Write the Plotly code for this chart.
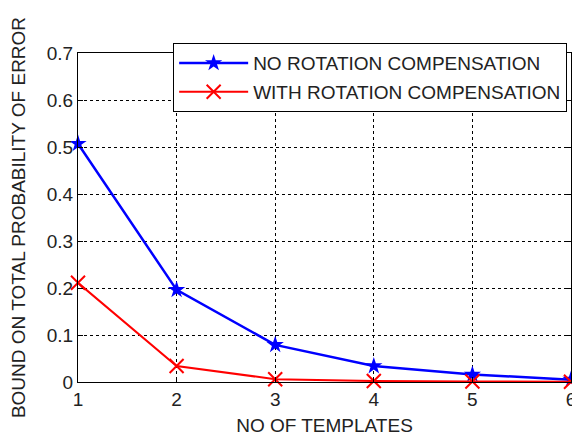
import plotly.graph_objects as go

templates = [1, 2, 3, 4, 5, 6]
no_rot = [0.507, 0.196, 0.079, 0.034, 0.016, 0.005]
with_rot = [0.211, 0.034, 0.006, 0.002, 0.001, 0.0005]
x_ticks = [1, 2, 3, 4, 5, 6]
y_ticks = [0, 0.1, 0.2, 0.3, 0.4, 0.5, 0.6, 0.7]
y_tick_labels = ["0", "0.1", "0.2", "0.3", "0.4", "0.5", "0.6", "0.7"]

FONT = "Liberation Sans, Arial, sans-serif"
TXT = "#222222"
FS = 19

fig = go.Figure()
fig.add_trace(go.Scatter(
    x=templates, y=no_rot, mode="lines+markers", name="NO ROTATION COMPENSATION",
    line=dict(color="#0000ff", width=2.5),
    marker=dict(symbol="star", size=13, color="#0000ff"),
    legendgroup="a", cliponaxis=False,
))
fig.add_trace(go.Scatter(
    x=templates, y=with_rot, mode="lines+markers", name="WITH ROTATION COMPENSATION",
    line=dict(color="#ff0000", width=2),
    marker=dict(symbol="x-thin-open", size=14, color="#ff0000",
                line=dict(color="#ff0000", width=2)),
    legendgroup="b", cliponaxis=False,
))

axis_common = dict(
    showline=True, linecolor="black", linewidth=1, mirror="ticks",
    ticks="inside", ticklen=5, tickcolor="black",
    showgrid=True, gridcolor="black", gridwidth=1, griddash="dot",
    zeroline=False, ticklabeloverflow="allow",
    tickfont=dict(family=FONT, size=FS, color=TXT),
)

fig.update_layout(
    width=572, height=428,
    margin=dict(l=70, r=4, t=45, b=54),
    paper_bgcolor="white", plot_bgcolor="white",
    font=dict(family=FONT, size=FS, color=TXT),
    xaxis=dict(range=[1, 6], tickvals=x_ticks,
               title=dict(text="NO OF TEMPLATES", font=dict(family=FONT, size=FS, color=TXT), standoff=9),
               **axis_common),
    yaxis=dict(range=[0, 0.7], tickvals=y_ticks, ticktext=y_tick_labels,
               title=dict(text="BOUND ON TOTAL PROBABILITY OF ERROR", font=dict(family=FONT, size=FS, color=TXT), standoff=20),
               **axis_common),
    legend=dict(x=0.193, y=1.03, xanchor="left", yanchor="top",
                bgcolor="white", bordercolor="black", borderwidth=1,
                font=dict(family=FONT, size=FS, color=TXT),
                itemwidth=69,
                traceorder="grouped", tracegroupgap=1),
    showlegend=True,
)

fig.write_html("out.html")
